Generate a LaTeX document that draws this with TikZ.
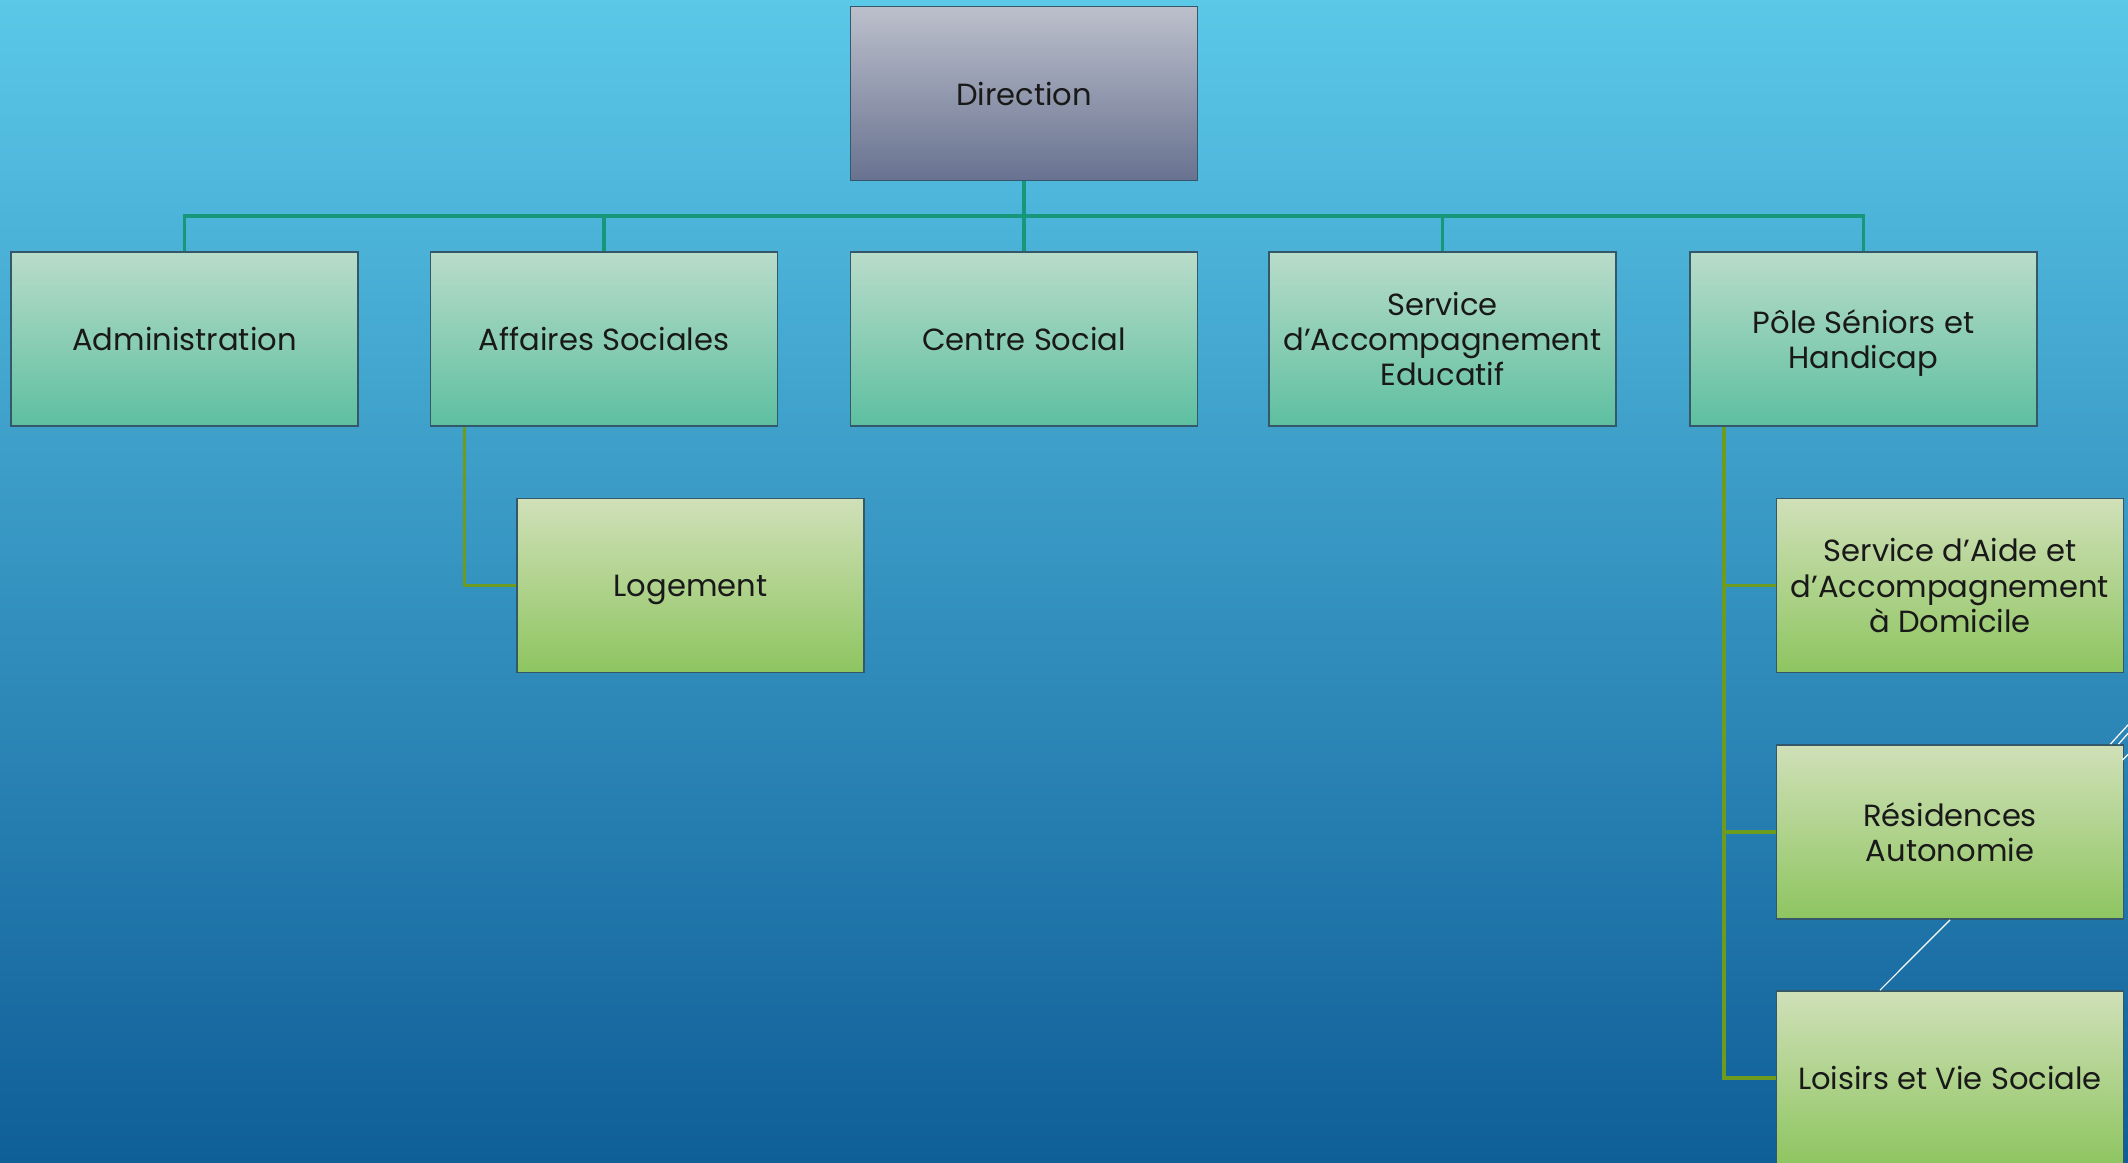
\documentclass[tikz,border=0pt]{standalone}
\usepackage{fontspec}
\setmainfont{Poppins}
\definecolor{bgtop}{HTML}{5BC8E8}
\definecolor{bgbottom}{HTML}{0F5E98}
\definecolor{headtop}{HTML}{BCC0CC}
\definecolor{headbottom}{HTML}{687290}
\definecolor{unittop}{HTML}{B9DCCA}
\definecolor{unitbottom}{HTML}{5DBFA0}
\definecolor{subtop}{HTML}{D0E0B8}
\definecolor{subbottom}{HTML}{8EC560}
\definecolor{boxline}{HTML}{34586A}
\definecolor{busline}{HTML}{17977A}
\definecolor{subline}{HTML}{6C9B1E}
\begin{document}
\begin{tikzpicture}[
    x=0.5pt, y=-0.5pt,
    box/.style={
      draw=boxline,
      line width=0.9pt,
      minimum width=173.5pt,
      minimum height=87pt,
      inner sep=1pt,
      text depth=0pt,
      align=center,
      text=black!90,
      font=\fontsize{15.3}{17.6}\selectfont
    },
    head/.style={
      box,
      top color=headtop,
      bottom color=headbottom
    },
    unit/.style={
      box,
      top color=unittop,
      bottom color=unitbottom
    },
    subunit/.style={
      box,
      top color=subtop,
      bottom color=subbottom
    },
    bus/.style={
      draw=busline,
      line width=1.8pt
    },
    branch/.style={
      draw=subline,
      line width=1.8pt
    }
  ]
    \useasboundingbox (0,0) rectangle (2128,1162);
    \clip (0,0) rectangle (2128,1162);
    \shade[top color=bgtop, bottom color=bgbottom] (0,0) rectangle (2128,1162);

    % connectors first, boxes drawn on top
    \coordinate (dirfoot) at (1024,180);
    \foreach \xc in {184.5,604,1024,1442.5,1863.5}
      \draw[bus] (dirfoot) -- ++(0,36) -| (\xc,252);

    \node[head] (direction) at (1024,93.5) {Direction};
    \node[unit] (admin) at (184.5,339) {Administration};
    \node[unit] (affaires) at (604,339) {Affaires Sociales};
    \node[unit] (centre) at (1024,339) {Centre Social};
    \node[unit] (educatif) at (1442.5,339) {Service\\d’Accompagnement\\Educatif};
    \node[unit] (pole) at (1863.5,339) {Pôle Séniors et\\Handicap};

    \node[subunit] (logement) at (690.5,585.5) {Logement};
    \node[subunit] (saad) at (1950,585.5) {Service d’Aide et\\d’Accompagnement\\à Domicile};
    \node[subunit] (residences) at (1950,832) {Résidences\\Autonomie};
    \node[subunit] (loisirs) at (1950,1078) {Loisirs et Vie Sociale};

    \draw[branch] ([xshift=17.5pt]affaires.south west) |- (logement.west);
    \draw[branch] ([xshift=17.5pt]pole.south west) |- (saad.west);
    \draw[branch] ([xshift=17.5pt]pole.south west) |- (residences.west);
    \draw[branch] ([xshift=17.5pt]pole.south west) |- (loisirs.west);

    \draw[white, line width=0.6pt] (residences.south) -- ([xshift=-35pt]loisirs.north);
    \draw[white, line width=0.6pt] ([xshift=-7pt]residences.north east) -- ++(22,-24);
    \draw[white, line width=0.6pt] ([xshift=-3pt]residences.north east) -- ++(18,-20);
    \draw[white, line width=0.6pt] ([xshift=-1pt,yshift=-8pt]residences.north east) -- ++(10,-10);
  \end{tikzpicture}
\end{document}
